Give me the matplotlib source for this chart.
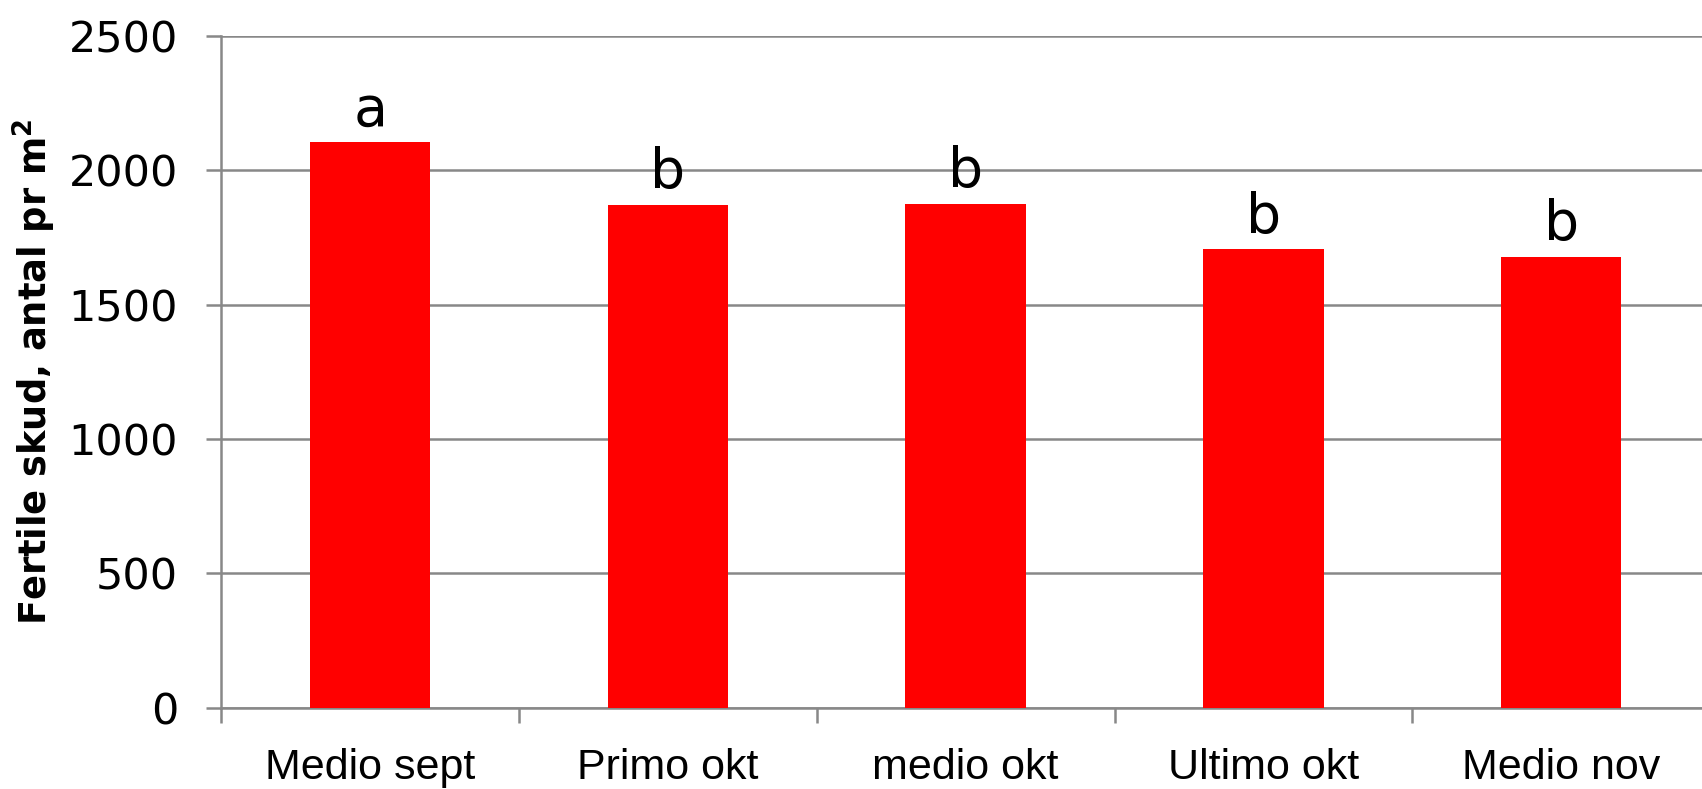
import matplotlib
matplotlib.use("Agg")
import matplotlib.pyplot as plt
import numpy as np

categories = ["Medio sept", "Primo okt", "medio okt", "Ultimo okt", "Medio nov"]
values = [2105, 1872, 1876, 1705, 1678]
letters = ["a", "b", "b", "b", "b"]
yticks = [0, 500, 1000, 1500, 2000, 2500]

plt.rcParams['font.family'] = ['DejaVu Sans']

fig = plt.figure(figsize=(17.02, 7.89), dpi=100)
ax = fig.add_axes([0.130, 0.103, 0.8747, 0.8516])

x = np.arange(len(categories))
ax.bar(x, values, width=0.405, color="#ff0000", zorder=3)

ax.set_xlim(-0.5, len(categories) - 0.5)
ax.set_ylim(0, 2500)
ax.set_yticks(yticks)
ax.set_yticklabels([str(v) for v in yticks])
ax.yaxis.grid(True, color="#888888", linewidth=1.8, zorder=0)
ax.set_axisbelow(True)

ax.set_xticks(x)
ax.set_xticklabels(categories, fontfamily="Liberation Sans", fontsize=31)
ax.set_xticks(np.arange(-0.5, len(categories), 1.0), minor=True)
ax.tick_params(axis="x", which="major", length=0, pad=29)
ax.tick_params(axis="x", which="minor", length=11, width=1.8, color="#888888", direction="out")
ax.tick_params(axis="y", which="major", length=11, width=1.8, color="#888888", pad=20, labelsize=31)

for s in ["top", "right"]:
    ax.spines[s].set_visible(False)
for s in ["left", "bottom"]:
    ax.spines[s].set_color("#888888")
    ax.spines[s].set_linewidth(1.8)

for xi, v, lab in zip(x, values, letters):
    ax.annotate(lab, (xi, v), xytext=(0, 12), textcoords="offset points",
                ha="center", va="baseline", fontsize=40, color="black")

ax.set_ylabel("Fertile skud, antal pr m$^{\\mathregular{2}}$", fontsize=26.5,
              fontweight="bold", labelpad=8)

fig.savefig("out.png", dpi=100)
